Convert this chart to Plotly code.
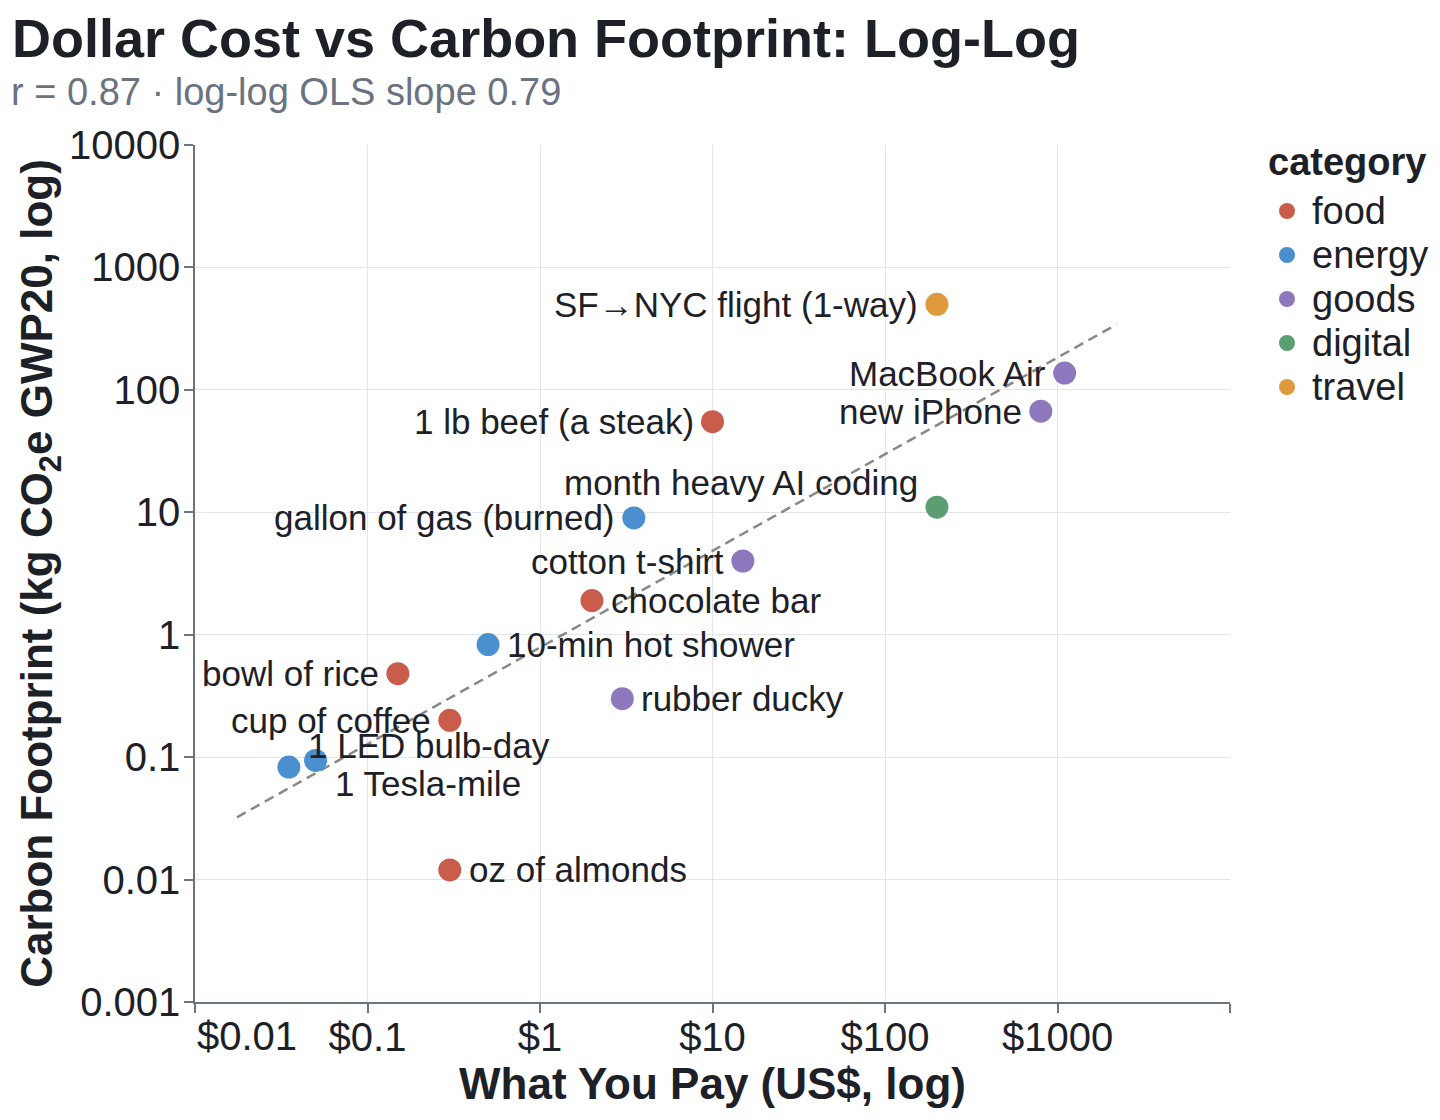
import numpy as np
import plotly.graph_objects as go

# values
items = ["SF→NYC flight (1-way)", "MacBook Air", "new iPhone", "month heavy AI coding",
         "1 lb beef (a steak)", "gallon of gas (burned)", "cotton t-shirt", "chocolate bar",
         "10-min hot shower", "rubber ducky", "bowl of rice", "cup of coffee",
         "1 LED bulb-day", "1 Tesla-mile", "oz of almonds"]
category = ["travel", "goods", "goods", "digital", "food", "energy", "goods", "food",
            "energy", "goods", "food", "food", "energy", "energy", "food"]
cost_usd = [200, 1100, 800, 200, 10, 3.5, 15, 2, 0.5, 3, 0.15, 0.3, 0.035, 0.05, 0.3]
co2_kg = [500, 137, 67, 11, 55, 9, 4, 1.9, 0.83, 0.3, 0.48, 0.2, 0.083, 0.094, 0.012]

categories = ["food", "energy", "goods", "digital", "travel"]
x_ticks = [0.01, 0.1, 1, 10, 100, 1000, 10000]
x_tick_text = ["", "$0.1", "$1", "$10", "$100", "$1000", ""]
y_ticks = [0.001, 0.01, 0.1, 1, 10, 100, 1000, 10000]
y_tick_text = ["0.001", "0.01", "0.1", "1", "10", "100", "1000", "10000"]

colors = {"food": "#c95c4b", "energy": "#4a8fce", "goods": "#8e78bd",
          "digital": "#5a9e72", "travel": "#e09a3e"}
# label side and vertical nudge (px) for each point
label_pos = {
    "SF→NYC flight (1-way)": ("left", 0), "MacBook Air": ("left", 0),
    "new iPhone": ("left", 0), "month heavy AI coding": ("left", 25),
    "1 lb beef (a steak)": ("left", 0), "gallon of gas (burned)": ("left", 0),
    "cotton t-shirt": ("left", 0), "chocolate bar": ("right", 0),
    "10-min hot shower": ("right", 0), "rubber ducky": ("right", 0),
    "bowl of rice": ("left", 0), "cup of coffee": ("left", 0),
    "1 LED bulb-day": ("right", 22), "1 Tesla-mile": ("right", -23),
    "oz of almonds": ("right", 0),
}

FONT = "Liberation Sans, Arial, sans-serif"
DARK = "#1d2127"
GREY = "#6b7280"
GRID = "#e4e5ea"

# page has an 8px body margin, so the figure is 8px smaller each way
W, H = 1432, 1112
ML, MT, MR, MB = 187, 137, 210, 118
PW, PH = W - ML - MR, H - MT - MB


def px_x(px):
    return (px - ML) / PW


def px_y(py):
    return 1 - (py - MT) / PH


fig = go.Figure()

# log-log OLS trend line
lx = np.log10(cost_usd)
ly = np.log10(co2_kg)
slope, intercept = np.polyfit(lx, ly, 1)
fit_x = np.array([min(cost_usd) / 2, max(cost_usd) * 2])
fit_y = 10 ** (intercept + slope * np.log10(fit_x))
fig.add_trace(go.Scatter(x=fit_x, y=fit_y, mode="lines", showlegend=False,
                         line=dict(color="#888888", width=2.5, dash="10px,6px"),
                         hoverinfo="skip"))

for cat in categories:
    idx = [i for i, c in enumerate(category) if c == cat]
    fig.add_trace(go.Scatter(
        x=[cost_usd[i] for i in idx],
        y=[co2_kg[i] for i in idx],
        text=[items[i] for i in idx],
        mode="markers",
        name=cat,
        showlegend=False,
        marker=dict(size=23, color=colors[cat], line=dict(width=0)),
    ))

annotations = []
for name, x, y in zip(items, cost_usd, co2_kg):
    side, dy = label_pos[name]
    annotations.append(dict(
        x=np.log10(x), y=np.log10(y), xref="x", yref="y", text=name,
        showarrow=False, xanchor="right" if side == "left" else "left",
        yanchor="middle", xshift=-17 if side == "left" else 17, yshift=dy,
        font=dict(family=FONT, size=35, color=DARK),
    ))

# left-flushed first x tick label
annotations.append(dict(x=-2, y=0, xref="x", yref="paper", text="$0.01",
                        showarrow=False, xanchor="left", yanchor="top", yshift=-10,
                        font=dict(family=FONT, size=40, color=DARK)))

annotations.append(dict(x=px_x(1), y=px_y(84), xref="paper", yref="paper",
                        text="r = 0.87 · log-log OLS slope 0.79",
                        showarrow=False, xanchor="left", yanchor="middle",
                        font=dict(family=FONT, size=38, color=GREY)))

# legend drawn by hand to match the reference's row spacing
shapes = []
annotations.append(dict(x=px_x(1258), y=px_y(154), xref="paper", yref="paper",
                        text="<b>category</b>", showarrow=False,
                        xanchor="left", yanchor="middle",
                        font=dict(family=FONT, size=38, color=DARK)))
for i, cat in enumerate(categories):
    row_y = px_y(203 + 44 * i)
    shapes.append(dict(type="circle", xref="paper", yref="paper",
                       xsizemode="pixel", ysizemode="pixel",
                       xanchor=px_x(1279), yanchor=row_y,
                       x0=-8, x1=8, y0=-8, y1=8,
                       fillcolor=colors[cat], line=dict(width=0)))
    annotations.append(dict(x=px_x(1302), y=row_y, xref="paper", yref="paper",
                            text=cat, showarrow=False,
                            xanchor="left", yanchor="middle",
                            font=dict(family=FONT, size=38, color=DARK)))

axis_common = dict(
    type="log", showgrid=True, gridcolor=GRID, gridwidth=1, zeroline=False,
    showline=True, linecolor=GREY, linewidth=1.5, ticks="outside", ticklen=9,
    tickcolor=GREY, tickwidth=1.5, tickfont=dict(family=FONT, size=40, color=DARK),
)

fig.update_layout(
    width=W, height=H,
    margin=dict(l=ML, r=MR, t=MT, b=MB),
    paper_bgcolor="white", plot_bgcolor="white",
    font=dict(family=FONT, color=DARK),
    showlegend=False,
    title=dict(text="<b>Dollar Cost vs Carbon Footprint: Log-Log</b>",
               xref="container", yref="container", x=4 / W, y=1 - 30 / H,
               xanchor="left", yanchor="middle",
               font=dict(family=FONT, size=54, color=DARK)),
    xaxis=dict(axis_common, range=[-2, 4], tickvals=x_ticks, ticktext=x_tick_text,
               ticklabelstandoff=-10,
               title=dict(text="<b>What You Pay (US$, log)</b>", standoff=6,
                          font=dict(family=FONT, size=44, color=DARK))),
    yaxis=dict(axis_common, range=[-3, 4], tickvals=y_ticks, ticktext=y_tick_text,
               ticklabelstandoff=-4,
               title=dict(text="<b>Carbon Footprint (kg CO<sub>2</sub>e GWP20, log)</b>",
                          standoff=3, font=dict(family=FONT, size=44, color=DARK))),
    annotations=annotations,
    shapes=shapes,
)

fig.write_html("out.html")
